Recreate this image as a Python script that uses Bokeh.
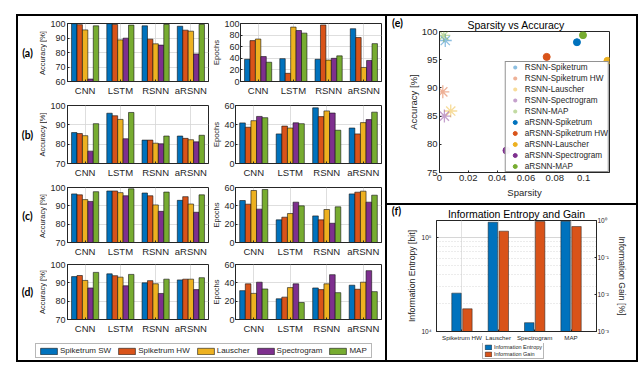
import math
from bokeh.plotting import figure
from bokeh.layouts import row, column
from bokeh.models import (ColumnDataSource, FactorRange, Range1d, FixedTicker, Legend, LegendItem,
                          Spacer, LogAxis, LogScale, NumeralTickFormatter)
from bokeh.transform import dodge
from bokeh.core.properties import value
from bokeh.embed import file_html
from bokeh.resources import INLINE

# ---------------- data ----------------
categories = ["CNN", "LSTM", "RSNN", "aRSNN"]
series_names = ["Spiketrum SW", "Spiketrum HW", "Lauscher", "Spectrogram", "MAP"]

# one list per series (Spiketrum SW, Spiketrum HW, Lauscher, Spectrogram, MAP) over categories
acc_a = [[99.9, 99.9, 98.4, 98.1], [99.2, 99.3, 89.2, 95.4], [95.6, 88.7, 86.0, 94.7],
         [61.7, 89.9, 85.1, 79.0], [98.4, 98.9, 99.4, 99.4]]
ep_a = [[38.3, 39.4, 38.3, 91.0], [70.5, 14.1, 97.5, 75.8], [73.2, 93.8, 36.9, 24.2],
        [43.0, 87.9, 40.0, 36.3], [33.2, 83.4, 44.2, 65.3]]
acc_b = [[86.0, 96.0, 82.1, 84.2], [85.5, 94.7, 82.1, 83.0], [84.4, 92.8, 80.5, 82.3],
         [76.4, 82.8, 80.2, 81.2], [90.6, 96.4, 84.2, 84.6]]
ep_b = [[42.0, 30.6, 57.6, 36.7], [37.5, 38.7, 48.5, 30.6], [44.3, 36.7, 54.4, 42.3],
        [48.7, 42.1, 52.2, 45.4], [47.4, 41.2, 34.4, 53.1]]
acc_c = [[96.5, 98.1, 97.0, 93.0], [96.0, 98.1, 95.5, 95.0], [93.4, 97.2, 90.5, 91.0],
         [92.4, 95.5, 87.0, 86.5], [97.7, 99.3, 97.5, 96.0]]
ep_c = [[45.8, 24.7, 29.0, 53.0], [41.8, 27.6, 24.7, 54.9], [56.7, 31.6, 36.0, 56.0],
        [36.4, 44.0, 21.0, 44.0], [57.8, 40.0, 38.9, 51.6]]
acc_d = [[93.4, 94.9, 90.0, 91.6], [94.0, 93.9, 91.2, 92.0], [91.3, 93.1, 89.5, 92.0],
         [87.2, 88.4, 84.2, 86.3], [95.7, 94.6, 92.0, 92.8]]
ep_d = [[31.5, 22.6, 34.4, 37.4], [38.9, 24.4, 32.6, 33.0], [28.5, 34.8, 38.9, 40.7],
        [40.7, 38.9, 48.9, 53.3], [33.3, 18.5, 29.3, 30.4]]

acc_ticks_a = [60, 70, 80, 90, 100]
acc_ticks = [70, 80, 90, 100]
ep_ticks_a = [0, 20, 40, 60, 80, 100]
ep_ticks = [0, 20, 40, 60]

scatter_names = ["Spiketrum", "Spiketrum HW", "Lauscher", "Spectrogram", "MAP"]
rsnn_sparsity = [0.0040, 0.0023, 0.0078, 0.0034, 0.0030]
rsnn_accuracy = [98.4, 89.3, 85.9, 85.0, 99.3]
arsnn_sparsity = [0.0954, 0.0744, 0.1166, 0.0465, 0.0996]
arsnn_accuracy = [98.1, 95.5, 94.8, 78.9, 99.35]
sparsity_ticks = [0, 0.02, 0.04, 0.06, 0.08, 0.1]
accuracy_ticks = [75, 80, 85, 90, 95, 100]

info_categories = ["Spiketrum HW", "Lauscher", "Spectrogram", "MAP"]
info_entropy = [2.55e4, 1.44e5, 1.24e4, 1.47e5]
info_gain = [0.0041, 0.515, 0.936, 0.687]
entropy_ticks = [1e4, 1e5]
gain_ticks = [1e-3, 1e-2, 1e-1, 1.0]

# ---------------- style ----------------
COLORS = ["#0072BD", "#D95319", "#EDB120", "#7E2F8E", "#77AC30"]
FONT = "Liberation Sans"
BOLD_FONT = "Lato"
INK = "#262626"
GRID = "#d6d6d6"
BAR_W = 0.154
SUP = {"-": "\u207b", "0": "\u2070", "1": "\u00b9", "2": "\u00b2", "3": "\u00b3",
       "4": "\u2074", "5": "\u2075"}
HAS_FRAME_ALIGN = "frame_align" in figure.properties()


def pow_label(t):
    e = str(int(round(math.log10(t))))
    return "10" + "".join(SUP[c] for c in e)


def wrap(p):
    return p if HAS_FRAME_ALIGN else row(p)


def base_fig(**kw):
    p = figure(output_backend="svg", toolbar_location=None, **kw)
    p.background_fill_color = "white"
    p.border_fill_color = "white"
    if HAS_FRAME_ALIGN:
        p.frame_align = False
    return p


def blank_fig(w, h, top=0, bottom=0, xr=None, yr=None):
    p = base_fig(width=w, height=h, x_range=xr if xr is not None else Range1d(0, w),
                 y_range=yr if yr is not None else Range1d(0, h),
                 min_border_left=0, min_border_right=0, min_border_top=top,
                 min_border_bottom=bottom, x_axis_location=None, y_axis_location=None)
    p.outline_line_color = None
    p.grid.visible = False
    return p


def style_axes(p, tick_size):
    p.outline_line_color = INK
    p.outline_line_width = 1
    for ax in p.axis:
        ax.axis_line_color = INK
        ax.major_tick_line_color = INK
        ax.major_tick_in = 2
        ax.major_tick_out = 0
        ax.minor_tick_line_color = None
        ax.major_label_text_font = FONT
        ax.major_label_text_font_size = tick_size
        ax.major_label_text_color = INK
        ax.axis_label_text_font = FONT
        ax.axis_label_text_font_style = "normal"
        ax.axis_label_text_color = INK


def style_title(p, text, align, offset):
    p.title.text = text
    p.title.align = align
    p.title.offset = offset
    p.title.standoff = 1
    p.title.text_font = FONT
    p.title.text_font_style = "normal"
    p.title.text_font_size = "10.5px"
    p.title.text_color = "#000000"


def bar_panel(data, y_lo, y_hi, ticks, ylabel, width, height, left, right, top, bottom):
    cols = {"cat": categories}
    for i, vals in enumerate(data):
        cols[f"s{i}"] = vals
    src = ColumnDataSource(cols)
    p = base_fig(width=width, height=height,
                 x_range=FactorRange(factors=categories, range_padding=0),
                 y_range=Range1d(y_lo, y_hi),
                 min_border_left=left, min_border_right=right,
                 min_border_top=top, min_border_bottom=bottom)
    for i in range(len(data)):
        p.vbar(x=dodge("cat", (i - 2) * BAR_W, range=p.x_range), top=f"s{i}", bottom=0,
               width=BAR_W, source=src, fill_color=COLORS[i], line_color="#111111",
               line_width=0.6)
    p.yaxis.ticker = FixedTicker(ticks=ticks)
    style_axes(p, "9px")
    p.xaxis.major_label_text_font_size = "9.5px"
    p.xaxis.major_label_standoff = 3
    p.yaxis.major_label_standoff = 2
    if ylabel:
        p.yaxis.axis_label = ylabel
        p.yaxis.axis_label_text_font_size = "7.5px"
        p.yaxis.axis_label_standoff = 0
        p.yaxis.major_label_standoff = 1
    p.xgrid.grid_line_color = GRID
    p.ygrid.grid_line_color = GRID
    p.xgrid.grid_line_width = 0.8
    p.ygrid.grid_line_width = 0.8
    return p


def label_fig(tag, ylabel, height, top, bottom):
    w = 29
    p = blank_fig(w, height, top, bottom, xr=Range1d(0, w), yr=Range1d(0, 1))
    p.text(x=[9], y=[0.5], text=[tag], text_font=value(BOLD_FONT), text_font_style="bold",
           text_font_size="10.5px", text_align="center", text_baseline="middle",
           text_color="#000000")
    p.text(x=[23.5], y=[0.5], text=[ylabel], angle=math.pi / 2, text_font=value(FONT),
           text_font_size="7.5px", text_align="center", text_baseline="middle",
           text_color=INK)
    return p


def tag_strip(w, h, tag, tag_x, from_top):
    p = blank_fig(w, h)
    p.text(x=[tag_x], y=[h - from_top], text=[tag], text_font=value(BOLD_FONT),
           text_font_style="bold", text_font_size="10.5px", text_align="center",
           text_baseline="middle", text_color="#000000")
    return p


# ---------------- left block: panels (a)-(d) ----------------
row_specs = [
    ("(a)", acc_a, 60, 100, acc_ticks_a, ep_a, 0, 100, ep_ticks_a, 82, 7, 16),
    ("(b)", acc_b, 70, 100, acc_ticks, ep_b, 0, 60, ep_ticks, 82, 7, 17),
    ("(c)", acc_c, 70, 100, acc_ticks, ep_c, 0, 60, ep_ticks, 79, 7, 15),
    ("(d)", acc_d, 70, 100, acc_ticks, ep_d, 0, 60, ep_ticks, 79, 5, 19),
]

left_rows = []
for tag, acc, alo, ahi, aticks, ep, elo, ehi, eticks, h, top, bottom in row_specs:
    lf_ = label_fig(tag, "Accuracy [%]", h, top, bottom)
    pa = bar_panel(acc, alo, ahi, aticks, None, 162, h, 18, 1, top, bottom)
    pe_ = bar_panel(ep, elo, ehi, eticks, "Epochs", 176, h, 25, 4, top, bottom)
    left_rows.append(row(lf_, pa, pe_))

# shared legend for (a)-(d): proxies are hidden renderers of panel (d) data
leg_cols = {"cat": categories}
for i, vals in enumerate(acc_d):
    leg_cols[f"s{i}"] = vals
leg_src = ColumnDataSource(leg_cols)
lg = blank_fig(367, 22, xr=FactorRange(factors=categories), yr=Range1d(70, 100))
items = []
for i, name in enumerate(series_names):
    r = lg.vbar(x=dodge("cat", (i - 2) * BAR_W, range=lg.x_range), top=f"s{i}", bottom=0,
                width=BAR_W, source=leg_src, fill_color=COLORS[i], line_color="#111111",
                line_width=0.6, visible=False)
    items.append(LegendItem(label=name, renderers=[r]))
legend = Legend(items=items, orientation="horizontal", location=(17, 2), margin=0,
                padding=2, spacing=5, glyph_width=21, glyph_height=8, label_height=9,
                label_standoff=1, label_text_font=FONT, label_text_font_size="8px",
                label_text_color=INK, border_line_color="#707070", border_line_width=0.8,
                inactive_fill_alpha=0.0, click_policy="none")
lg.add_layout(legend)
left_rows.append(wrap(lg))
left_block = column(*left_rows)

# ---------------- (e) Sparsity vs Accuracy ----------------
e_tag = tag_strip(17, 187, "(e)", 10, 6)
pe = base_fig(width=232, height=187, x_range=Range1d(0, 0.118), y_range=Range1d(75, 100),
              min_border_left=29, min_border_right=27, min_border_top=14, min_border_bottom=31)
for i, name in enumerate(scatter_names):
    pe.scatter(x=[rsnn_sparsity[i]], y=[rsnn_accuracy[i]], marker="asterisk", size=13,
               line_color=COLORS[i], line_alpha=0.45, line_width=1.3,
               legend_label="RSNN-" + name)
for i, name in enumerate(scatter_names):
    pe.scatter(x=[arsnn_sparsity[i]], y=[arsnn_accuracy[i]], marker="circle", size=7,
               fill_color=COLORS[i], line_color=COLORS[i], legend_label="aRSNN-" + name)
pe.xaxis.ticker = FixedTicker(ticks=sparsity_ticks)
pe.xaxis.formatter = NumeralTickFormatter(format="0.[00]")
pe.yaxis.ticker = FixedTicker(ticks=accuracy_ticks)
pe.xaxis.axis_label = "Sparsity"
pe.yaxis.axis_label = "Accuracy [%]"
style_axes(pe, "9.5px")
pe.axis.axis_label_text_font_size = "9.5px"
pe.xaxis.axis_label_standoff = 3
pe.yaxis.axis_label_standoff = 0
pe.axis.major_label_standoff = 2
pe.grid.visible = False
style_title(pe, "Sparsity vs Accuracy", "left", 28)
pe.legend.location = "bottom_right"
pe.legend.margin = 0
pe.legend.padding = 0
pe.legend.spacing = 1
pe.legend.label_height = 10
pe.legend.glyph_height = 10
pe.legend.glyph_width = 18
pe.legend.label_standoff = 1
pe.legend.label_text_font = FONT
pe.legend.label_text_font_size = "8.2px"
pe.legend.label_text_color = INK
pe.legend.border_line_color = INK
pe.legend.border_line_width = 0.8

# ---------------- (f) Information Entropy and Gain ----------------
f_tag = tag_strip(17, 155, "(f)", 9, 5)
pf = base_fig(width=232, height=138,
              x_range=FactorRange(factors=info_categories, range_padding=0.2,
                                  range_padding_units="absolute"),
              y_axis_type="log", y_range=Range1d(1e4, 1.5e5),
              min_border_left=23, min_border_right=40, min_border_top=13, min_border_bottom=12)
pf.extra_y_ranges = {"gain": Range1d(1e-3, 1.0)}
pf.extra_y_scales = {"gain": LogScale()}
fsrc = ColumnDataSource(dict(cat=info_categories, entropy=info_entropy, gain=info_gain))
pf.vbar(x=dodge("cat", -0.15, range=pf.x_range), top="entropy", bottom=1e4, width=0.26,
        source=fsrc, fill_color=COLORS[0], line_color="#1a1a1a", line_width=0.5)
pf.vbar(x=dodge("cat", 0.15, range=pf.x_range), top="gain", bottom=1e-3, width=0.26,
        source=fsrc, fill_color=COLORS[1], line_color="#1a1a1a", line_width=0.5,
        y_range_name="gain")
left_ax = pf.yaxis[0]
left_ax.ticker = FixedTicker(ticks=entropy_ticks, minor_ticks=[k * 1e4 for k in range(2, 10)])
left_ax.major_label_overrides = {t: pow_label(t) for t in entropy_ticks}
left_ax.axis_label = "Information Entropy [bit]"
right_ax = LogAxis(y_range_name="gain", ticker=FixedTicker(ticks=gain_ticks),
                   major_label_overrides={t: pow_label(t) for t in gain_ticks},
                   axis_label="Information Gain [%]")
pf.add_layout(right_ax, "right")
style_axes(pf, "6.5px")
pf.xaxis.major_label_text_font_size = "6.2px"
pf.axis.axis_label_text_font_size = "8.7px"
pf.yaxis.axis_label_standoff = 1
right_ax.axis_label_standoff = 5
pf.axis.major_label_standoff = 1
pf.xaxis.major_label_standoff = 2
pf.xgrid.grid_line_color = "#e2e2e2"
pf.ygrid.grid_line_color = "#d6d6d6"
pf.ygrid.minor_grid_line_color = "#c8c8c8"
pf.ygrid.minor_grid_line_dash = "1 2"
pf.ygrid.minor_grid_line_width = 0.7
style_title(pf, "Information Entropy and Gain", "center", 0)

# legend strip for (f): proxies are hidden renderers of the same data
f_leg = blank_fig(232, 17, xr=FactorRange(factors=info_categories), yr=Range1d(1e4, 1.5e5))
f_leg.extra_y_ranges = {"gain": Range1d(1e-3, 1.0)}
lr_ent = f_leg.vbar(x="cat", top="entropy", bottom=1e4, width=0.26, source=fsrc,
                    fill_color=COLORS[0], line_color="#1a1a1a", line_width=0.5, visible=False)
lr_gain = f_leg.vbar(x="cat", top="gain", bottom=1e-3, width=0.26, source=fsrc,
                     fill_color=COLORS[1], line_color="#1a1a1a", line_width=0.5,
                     y_range_name="gain", visible=False)
f_legend = Legend(items=[LegendItem(label="Information Entropy", renderers=[lr_ent]),
                         LegendItem(label="Information Gain", renderers=[lr_gain])],
                  location=(78, 1), orientation="vertical", margin=0, padding=1, spacing=1,
                  glyph_width=8, glyph_height=6, label_height=6, label_standoff=2,
                  label_text_font=FONT, label_text_font_size="5.5px", label_text_color=INK,
                  border_line_color="#707070", border_line_width=0.6,
                  inactive_fill_alpha=0.0, click_policy="none")
f_leg.add_layout(f_legend)

# ---------------- assembly with frames ----------------
def hline(w):
    return Spacer(width=w, height=2, styles={"background-color": "#000000"})


def vline(h):
    return Spacer(width=2, height=h, styles={"background-color": "#000000"})


e_block = row(e_tag, pe)
f_block = row(f_tag, column(wrap(pf), wrap(f_leg)))
right_block = column(e_block, hline(249), f_block)
body = row(vline(344), left_block, vline(344), right_block, vline(344))
framed = column(hline(622), body, hline(622), margin=(14, 0, 0, 16))

open("out.html", "w").write(file_html(framed, INLINE))
